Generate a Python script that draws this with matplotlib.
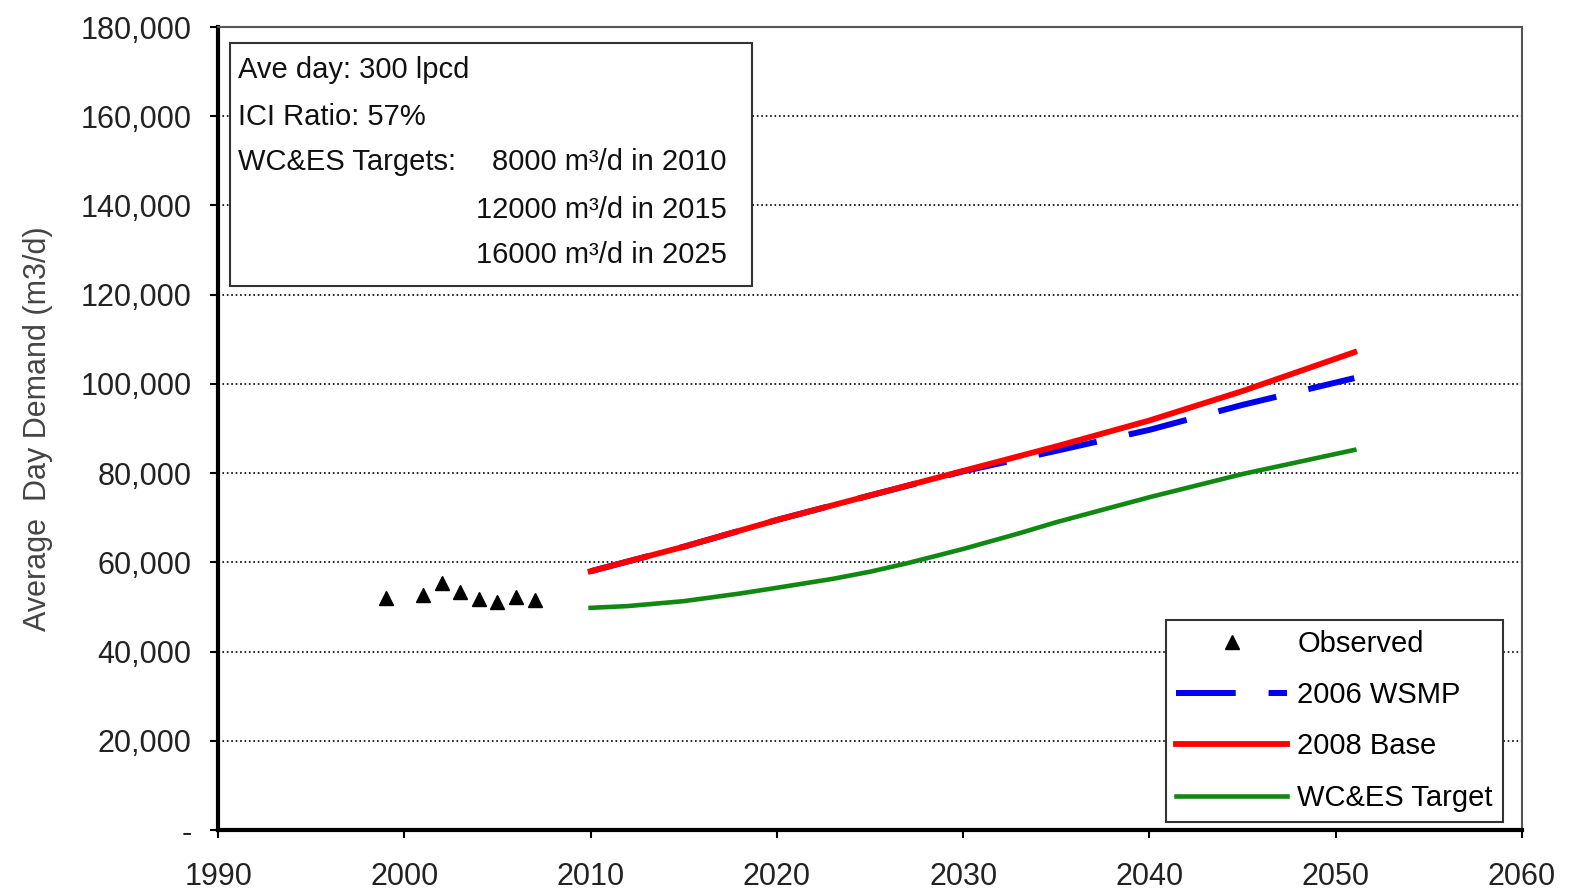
import matplotlib.pyplot as plt
from matplotlib.ticker import FuncFormatter
from matplotlib.patches import Rectangle

plt.rcParams['font.family'] = ['Liberation Sans', 'DejaVu Sans']

# observed demand
obs_years = [1999, 2001, 2002, 2003, 2004, 2005, 2006, 2007]
obs_vals = [52000, 52700, 55400, 53300, 51800, 51100, 52200, 51500]

# projections
proj_years = [2010, 2015, 2020, 2025, 2030, 2035, 2040, 2045, 2051]
wsmp_2006 = [58000, 63500, 69500, 75000, 80400, 85000, 89700, 95300, 101300]
base_2008 = [58000, 63500, 69500, 75000, 80500, 86000, 91800, 98400, 107100]

target_years = [2010, 2012, 2015, 2018, 2020, 2023, 2025, 2027, 2030, 2033, 2035, 2040, 2045, 2051]
wces_target = [49800, 50200, 51300, 53000, 54300, 56300, 57900, 59800, 63000, 66500, 69000, 74600, 79800, 85200]

fig = plt.figure(figsize=(15.7, 8.92), dpi=100)
ax = fig.add_axes([0.1389, 0.0695, 0.8305, 0.9002])

ax.plot(obs_years, obs_vals, linestyle='none', marker='^', color='black',
        markersize=10, label='Observed', zorder=5)
ax.plot(proj_years, wsmp_2006, color='#0000ee', lw=4.3, dashes=(10, 5.5),
        label='2006 WSMP', zorder=3)
ax.plot(proj_years, base_2008, color='#ff0000', lw=4.2, label='2008 Base', zorder=4)
ax.plot(target_years, wces_target, color='#118811', lw=3.3, label='WC&ES Target', zorder=4)

ax.set_xlim(1990, 2060)
ax.set_ylim(0, 180000)
ax.set_xticks(range(1990, 2061, 10))
ax.set_yticks(range(0, 180001, 20000))
ax.yaxis.set_major_formatter(FuncFormatter(lambda v, p: '-' if v == 0 else f'{int(v):,}'))
ax.tick_params(axis='both', labelsize=22, labelcolor='#222222', direction='out',
               length=6, width=1.5)
ax.tick_params(axis='y', pad=13)
ax.tick_params(axis='x', pad=17)
ax.grid(axis='y', color='black', linestyle=':', linewidth=1.2)
ax.set_axisbelow(True)

for s in ['left', 'bottom']:
    ax.spines[s].set_linewidth(3)
for s in ['top', 'right']:
    ax.spines[s].set_linewidth(1.5)
    ax.spines[s].set_color('#555555')

ax.set_ylabel('Average  Day Demand (m3/d)', fontsize=22, color='#444444', labelpad=20)

# info box
ax.add_patch(Rectangle((0.0092, 0.6775), 0.4003, 0.3025, transform=ax.transAxes,
                       facecolor='white', edgecolor='#333333', lw=1.5, zorder=6))
left_lines = ['Ave day: 300 lpcd', 'ICI Ratio: 57%', 'WC&ES Targets:']
left_y = [0.9465, 0.8879, 0.8319]
for t, y in zip(left_lines, left_y):
    ax.text(0.0153, y, t, transform=ax.transAxes, fontsize=21, va='center',
            ha='left', color='#111111', zorder=7)
right_lines = ['8000 m\u00b3/d in 2010', '12000 m\u00b3/d in 2015', '16000 m\u00b3/d in 2025']
right_y = [0.8319, 0.7721, 0.7160]
for t, y in zip(right_lines, right_y):
    ax.text(0.390, y, t, transform=ax.transAxes, fontsize=21, va='center',
            ha='right', color='#111111', zorder=7)

leg = ax.legend(loc='lower right', bbox_to_anchor=(0.9854, 0.01), fontsize=21,
                frameon=True, fancybox=False, framealpha=1, edgecolor='#333333',
                handlelength=3.8, labelspacing=0.8, borderaxespad=0,
                handletextpad=0.35, borderpad=0.35)
leg.get_frame().set_linewidth(1.5)

fig.savefig('out.png', dpi=100)
